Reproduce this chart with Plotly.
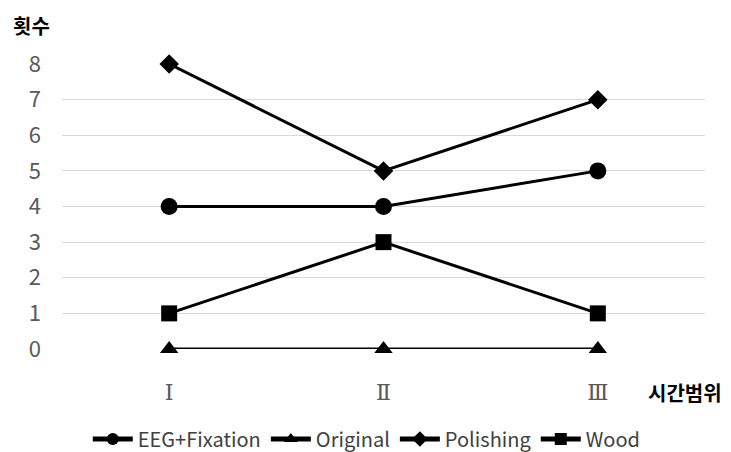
import plotly.graph_objects as go

categories = ["Ⅰ", "Ⅱ", "Ⅲ"]
eeg_fixation = [4, 4, 5]
original = [0, 0, 0]
polishing = [8, 5, 7]
wood = [1, 3, 1]
y_ticks = [0, 1, 2, 3, 4, 5, 6, 7, 8]

FONT = "Noto Sans CJK KR, Noto Sans, sans-serif"

fig = go.Figure()
series = [
    ("EEG+Fixation", eeg_fixation, "circle", 17),
    ("Original", original, "triangle-up", 16),
    ("Polishing", polishing, "diamond", 15),
    ("Wood", wood, "square", 16),
]
for name, vals, sym, sz in series:
    fig.add_trace(go.Scatter(
        x=categories, y=vals, name=name, mode="lines+markers",
        line=dict(color="black", width=3),
        marker=dict(symbol=sym, size=sz, color="black"),
        cliponaxis=False,
    ))

# plot area: x 54..697, y 56..341 (figure pixels; page adds 8px body margin)
fig.update_layout(
    width=731, height=452,
    margin=dict(l=54, r=34, t=56, b=111, autoexpand=False),
    plot_bgcolor="white", paper_bgcolor="white",
    font=dict(family=FONT, color="#595959"),
    showlegend=True,
    legend=dict(orientation="h", x=0.474, xanchor="center", xref="paper",
                y=-0.316, yanchor="middle", font=dict(size=20, color="#404040"),
                itemwidth=40, itemsizing="constant", tracegroupgap=0),
    xaxis=dict(type="category", range=[-0.5, 2.5], showgrid=False,
               showline=False, zeroline=False,
               tickfont=dict(size=22, color="#595959", family="DejaVu Serif, serif"),
               ticklabelstandoff=28),
    yaxis=dict(range=[0, 8], tickvals=y_ticks, showgrid=True,
               gridcolor="#d9d9d9", gridwidth=1, zeroline=False,
               showline=False, tickfont=dict(size=22, color="#595959"),
               ticklabelstandoff=20),
    annotations=[
        dict(text="<b>횟수</b>", xref="paper", yref="paper", x=-0.048, y=1.135,
             xanchor="center", yanchor="middle", showarrow=False,
             font=dict(size=20, color="black")),
        dict(text="<b>시간범위</b>", xref="paper", yref="paper", x=1.03, y=-0.154,
             xanchor="right", yanchor="middle", showarrow=False,
             font=dict(size=20, color="black")),
    ],
)

fig.write_html("out.html")
